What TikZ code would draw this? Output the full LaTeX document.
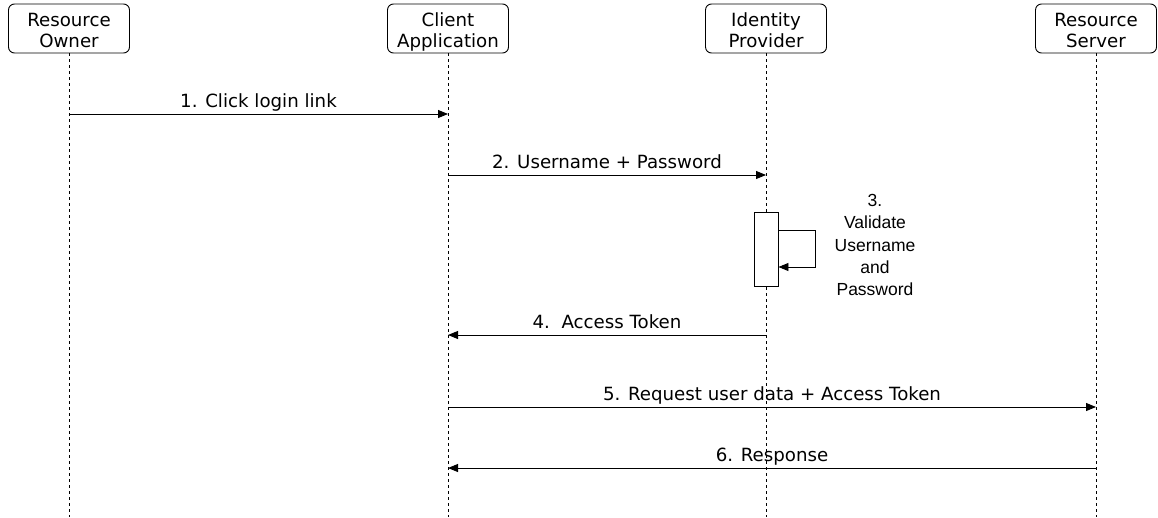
\documentclass[tikz,border=0pt]{standalone}
\usepackage{fontspec}
\setmainfont{DejaVu Sans}
\newfontfamily\notefont{Liberation Sans}
\usetikzlibrary{arrows.meta}
\begin{document}
\begin{tikzpicture}[x=1pt,y=-1pt,
  actor/.style={draw,rounded corners=6pt,minimum width=121pt,minimum height=49pt,
    align=center,font=\fontsize{18.2}{20.5}\selectfont,inner sep=0pt,line width=0.9pt,
    text height=37pt,text depth=0pt},
  lifeline/.style={dash pattern=on 3pt off 3pt,line width=0.8pt},
  msg/.style={-{Triangle[length=10pt,width=8pt]},line width=0.9pt},
  lbl/.style={font=\fontsize{18.2}{20}\selectfont,inner sep=0pt,anchor=base,yshift=6.5pt}]
\useasboundingbox (0,0) rectangle (1158,517);
% participants
\node[actor] (ro) at (69,28.5) {Resource\\Owner};
\node[actor] (ca) at (448,28.5) {Client\\Application};
\node[actor] (ip) at (766,28.5) {Identity\\Provider};
\node[actor] (rs) at (1096,28.5) {Resource\\Server};
% lifeline ends
\coordinate (roE) at (69,517);
\coordinate (caE) at (448,517);
\coordinate (ipE) at (766,517);
\coordinate (rsE) at (1096,517);
\draw[lifeline] (ro.south) -- (roE);
\draw[lifeline] (ca.south) -- (caE);
\draw[lifeline] (ip.south) -- (ipE);
\draw[lifeline] (rs.south) -- (rsE);
% anchor points on the lifelines
\coordinate (ro1) at (69,114);   \coordinate (ca1) at (448,114);
\coordinate (ca2) at (448,175);  \coordinate (ip2) at (766,175);
\coordinate (ip4) at (766,335);  \coordinate (ca4) at (448,335);
\coordinate (ca5) at (448,407);  \coordinate (rs5) at (1096,407);
\coordinate (rs6) at (1096,468); \coordinate (ca6) at (448,468);
% activation bar with self call
\node[draw,fill=white,line width=0.9pt,minimum width=24pt,minimum height=74pt,inner sep=0pt]
  (act) at (766,249) {};
\coordinate (s1) at (act.east |- 0,230);
\coordinate (s2) at (815,230);
\coordinate (s3) at (815,267);
\coordinate (s4) at (act.east |- 0,267);
\draw[msg] (s1) -- (s2) -- (s3) -- (s4);
\node[font=\notefont\fontsize{17.5}{22.2}\selectfont,align=center,inner sep=0pt] (note) at (875,245)
  {3.\\Validate\\Username\\and\\Password};
% messages
\draw[msg] (ro1) -- node[lbl] {1. Click login link} (ca1);
\draw[msg] (ca2) -- node[lbl] {2. Username + Password} (ip2);
\draw[msg] (ip4) -- node[lbl] {4.\ \ Access Token} (ca4);
\draw[msg] (ca5) -- node[lbl] {5. Request user data + Access Token} (rs5);
\draw[msg] (rs6) -- node[lbl] {6. Response} (ca6);
\end{tikzpicture}
\end{document}
